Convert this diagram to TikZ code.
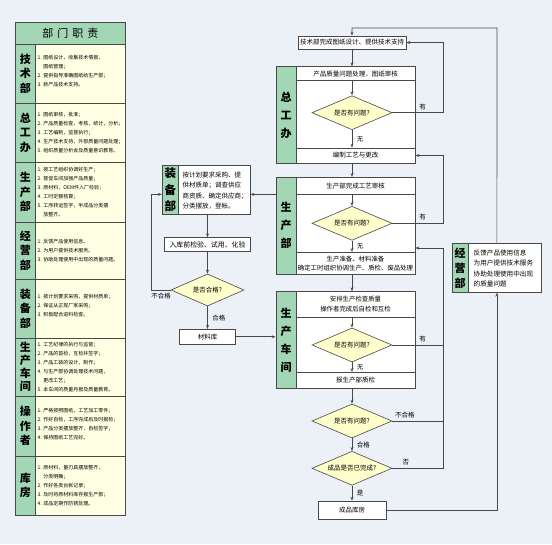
\documentclass[tikz,border=0pt]{standalone}
\usepackage{fontspec}
\setmainfont{Noto Sans CJK SC}
\usetikzlibrary{arrows.meta,shapes.geometric,positioning}
\definecolor{bgblue}{RGB}{236,241,248}
\definecolor{sidegrn}{RGB}{163,214,180}
\definecolor{dutycrm}{RGB}{255,255,228}
\definecolor{diayel}{RGB}{255,255,204}
\definecolor{linegry}{RGB}{72,72,72}

\begin{document}
\begin{tikzpicture}[x=1pt, y=-1pt, >={Stealth[length=4pt,width=3pt]},
  every node/.style={font=\fontsize{6.5}{8}\selectfont, inner sep=0pt},
  box/.style={draw=linegry, fill=white, line width=0.7pt, align=center},
  grpbox/.style={draw=linegry, fill=white, line width=0.7pt},
  bar/.style={draw=linegry, fill=sidegrn, line width=0.7pt, align=center, font=\fontsize{11}{18}\selectfont\bfseries},
  dia/.style={diamond, aspect=2.35, draw=linegry, fill=diayel, line width=0.6pt, minimum width=80pt, minimum height=34pt},
  lbl/.style={font=\fontsize{6.5}{6.5}\selectfont, inner sep=1.5pt},
  flow/.style={draw=linegry, line width=0.7pt},
  duty/.style={anchor=west, align=left, font=\fontsize{5}{9}\selectfont},
  dept/.style={align=center, font=\fontsize{11}{14.5}\selectfont\bfseries}]

  % background
  \fill[bgblue] (0,0) rectangle (552,544);
  \useasboundingbox (0,0) rectangle (552,544);

  % duty table
  \fill[dutycrm] (15.7,44) rectangle (125,515);
  \fill[sidegrn] (15.7,22) rectangle (125,44);
  \fill[sidegrn] (15.7,44) rectangle (35,515);
  \foreach \y in {44,103,162,222,279,338,396,456}
    \draw[linegry, line width=1pt] (15.7,\y) -- (125,\y);
  \draw[linegry, line width=0.8pt] (35,44) -- (35,515);
  \draw[linegry, line width=0.8pt] (15.7,22) rectangle (125,515);
  \node[font=\fontsize{11}{11}\selectfont] (dutyHead) at (70.3,33) {部\hspace{4pt}门\hspace{4pt}职\hspace{4pt}责};

  \node[dept] (jsName) at (25.3,73.5) {技\\术\\部};
  \node[duty] (jsDuty) at (37.5,71) {1. 图纸设计，收集技术情报，\\\phantom{1. }图纸管理；\\2. 提供指导准确图纸给生产部；\\3. 新产品技术支持。};
  \node[dept] (zgName) at (25.3,132.5) {总\\工\\办};
  \node[duty] (zgDuty) at (37.5,132.5) {1. 图纸审核，批准；\\2. 产品质量检查，考核，统计，分析；\\3. 工艺编制，监督执行；\\4. 生产技术支持，外部质量问题处理；\\5. 组织质量分析会及质量意识教育。};
  \node[dept] (scName) at (25.3,192) {生\\产\\部};
  \node[duty] (scDuty) at (37.5,192) {1. 按工艺组织协调好生产；\\2. 督促车间加强产品质量；\\3. 原材料，OEM件入厂检验；\\4. 工时定额核算；\\5. 工序转运签字，半成品分类摆\\\phantom{5. }放整齐。};
  \node[dept] (jyName) at (25.3,250.5) {经\\营\\部};
  \node[duty] (jyDuty) at (37.5,250.5) {1. 反馈产品使用信息。\\2. 为用户提供技术服务。\\3. 协助处理使用中出现的质量问题。};
  \node[dept] (zbName) at (25.3,308.5) {装\\备\\部};
  \node[duty] (zbDuty) at (37.5,306) {1. 按计划要求采购，提供材质单；\\2. 保证从正规厂家采购；\\3. 积极配合进料检查。};
  \node[dept, font=\fontsize{11}{13}\selectfont\bfseries] (cjName) at (25.3,367) {生\\产\\车\\间};
  \node[dept] (czName) at (25.3,426) {操\\作\\者};
  \node[duty] (czDuty) at (37.5,424) {1. 严格按照图纸，工艺加工零件；\\2. 作好自检，工序完成后及时报检；\\3. 产品分类摆放整齐，自检签字；\\4. 保持图纸工艺完好。};
  \node[duty] (cjDuty) at (37.5,367) {1. 工艺纪律的执行与监督；\\2. 产品的首检，互检并签字；\\3. 产品工装的设计，制作；\\4. 与生产部协调处理技术问题，\\\phantom{4. }更改工艺；\\5. 本车间的质量月报及质量教育。};
  \node[dept] (kfName) at (25.3,485.5) {库\\房};
  \node[duty] (kfDuty) at (37.5,485.5) {1. 原材料，量刃具摆放整齐，\\\phantom{1. }分类明确；\\2. 作好各类台帐记录；\\3. 及时将原材料库存报生产部；\\4. 成品定期作防锈处理。};

  % technical department
  \node[box, minimum width=108pt, minimum height=13pt] (techBox) at (352,42.5) {技术部完成图纸设计、提供技术支持};

  % chief engineer office
  \node[grpbox, minimum width=139pt, minimum height=96.3pt] (zgGrp) at (345.5,114.85) {};
  \node[bar, minimum width=20pt, minimum height=96.3pt] (zgBar) at (286,114.85) {总\\工\\办};
  \node[box, minimum width=119pt, minimum height=14pt] (zgHead) at (355.5,73.7) {产品质量问题处理，图纸审核};
  \node[dia] (zgDia) at (352,112.7) {是否有问题?};
  \node[box, minimum width=119pt, minimum height=15pt] (zgBot) at (355.5,155.5) {编制工艺与更改};

  % production department
  \node[grpbox, minimum width=139pt, minimum height=97pt] (scGrp) at (345.5,225.8) {};
  \node[bar, minimum width=20pt, minimum height=97pt] (scBar) at (286,225.8) {生\\产\\部};
  \node[box, minimum width=119pt, minimum height=16.7pt] (scHead) at (355.5,185.65) {生产部完成工艺审核};
  \node[dia] (scDia) at (352,223.3) {是否有问题?};
  \node[box, minimum width=119pt, minimum height=22pt, font=\fontsize{6.4}{9}\selectfont] (scBot) at (355.5,263.3) {生产准备、材料准备\\确定工时组织协调生产、质检、废品处理};

  % workshop
  \node[grpbox, minimum width=139pt, minimum height=96.6pt] (cjGrp) at (345.5,340) {};
  \node[bar, minimum width=20pt, minimum height=96.6pt] (cjBar) at (286,340) {生\\产\\车\\间};
  \node[box, minimum width=119pt, minimum height=25.6pt, font=\fontsize{6.4}{10}\selectfont] (cjHead) at (355.5,304.5) {安排生产检查质量\\操作者完成后自检和互检};
  \node[dia] (cjDia) at (352,345) {是否有问题?};
  \node[box, minimum width=119pt, minimum height=16pt] (cjBot) at (355.5,380.3) {报生产部质检};

  % final checks
  \node[dia] (qcDia) at (352,421) {是否有问题?};
  \node[dia] (wcDia) at (352,468.3) {成品是否已完成?};
  \node[box, minimum width=68pt, minimum height=18pt] (storeBox) at (352,510) {成品库房};

  % equipment department
  \node[box, minimum width=87.7pt, minimum height=48.6pt] (zbBox) at (206.15,190) {};
  \node[bar, minimum width=16pt, minimum height=48.6pt, font=\fontsize{11.5}{16.5}\selectfont\bfseries] (zbBar) at (170.3,190) {装\\备\\部};
  \node[anchor=west, align=left, font=\fontsize{6.5}{10.5}\selectfont] (zbText) at (182.5,190.5) {按计划要求采购、提\\供材质单；调查供应\\商资质、确定供应商；\\分类摆放，登帐。};
  \node[box, minimum width=86pt, minimum height=14pt, font=\fontsize{6.9}{8}\selectfont] (inspBox) at (207.5,244.7) {入库前检验、试用、化验};
  \node[dia, aspect=2.3, minimum width=73pt, minimum height=32pt] (okDia) at (207.5,290) {是否合格?};
  \node[box, minimum width=55.7pt, minimum height=15pt] (matBox) at (207.5,336.8) {材料库};

  % sales department
  \node[box, minimum width=89.7pt, minimum height=49pt] (jyBox) at (496.85,267.8) {};
  \node[bar, minimum width=16pt, minimum height=49pt, font=\fontsize{11}{15}\selectfont\bfseries] (jyBar) at (460,267.8) {经\\营\\部};
  \node[anchor=west, align=left, font=\fontsize{6.6}{10.3}\selectfont] (jyText) at (473.5,268.5) {反馈产品使用信息\\为用户提供技术服务\\协助处理使用中出现\\的质量问题};

  % bus coordinates
  \coordinate (topBus) at (497,28);
  \coordinate (zgBus) at (443,42.5);
  \coordinate (scBus) at (443,155.5);
  \coordinate (busTop) at (443,248);
  \coordinate (busBot) at (443,468.3);
  \coordinate (rejBus) at (151.7,194.3);

  % main flow
  \draw[->, flow] (jyBox.north) -- (topBus) -| (techBox.north);
  \draw[->, flow] (techBox.south) -- (techBox.south |- zgGrp.north);
  \draw[->, flow] (zgHead.south -| zgDia) -- (zgDia.north);
  \draw[->, flow] (zgDia.south) -- node[lbl, right=3pt] {无} (zgDia.south |- zgBot.north);
  \draw[->, flow] (zgDia.east) -| node[lbl, above=1pt, pos=.3] {有} (zgBus) -- (techBox.east);
  \draw[->, flow] (zgBot.south -| zgDia) -- (scHead.north -| zgDia);
  \draw[->, flow] (scHead.south -| scDia) -- (scDia.north);
  \draw[->, flow] (scDia.south) -- node[lbl, right=3pt] {无} (scDia.south |- scBot.north);
  \draw[->, flow] (scDia.east) -| node[lbl, above=1pt, pos=.3] {有} (scBus) -- (zgBot.east);
  \draw[->, flow] (scBot.south -| scDia) -- (cjHead.north -| scDia);
  \draw[->, flow] (cjHead.south -| cjDia) -- (cjDia.north);
  \draw[->, flow] (cjDia.south) -- node[lbl, right=3pt] {无} (cjDia.south |- cjBot.north);
  \draw[->, flow] (cjBot.south -| cjDia) -- (qcDia.north);
  \draw[->, flow] (qcDia.south) -- node[lbl, right=3pt] {合格} (wcDia.north);
  \draw[->, flow] (wcDia.south) -- node[lbl, right=3pt] {是} (storeBox.north);
  \draw[->, flow] (storeBox.east) -| (jyBox.south);

  % return lines
  \draw[flow] (cjDia.east) -- node[lbl, above=1pt, pos=.6] {有} (cjDia.east -| busBot);
  \draw[flow] (qcDia.east) -- node[lbl, above=1pt, pos=.25] {不合格} (qcDia.east -| busBot);
  \draw[->, flow] (wcDia.east) -- node[lbl, above=1pt, pos=.27] {否} (busBot) -- (busTop) -- (scGrp.east |- busTop);

  % equipment flow
  \draw[->, flow] (scHead.south -| scBar.west) -- (scHead.south -| zbBox.east);
  \draw[->, flow] (zbBox.south -| okDia) -- (inspBox.north);
  \draw[->, flow] (inspBox.south) -- (okDia.north);
  \draw[->, flow] (okDia.south) -- node[lbl, right=3pt] {合格} (matBox.north);
  \draw[->, flow] (okDia.west) -| node[lbl, below=1pt, pos=.25] {不合格} (rejBus) -- (rejBus -| zbBox.west);
  \draw[->, flow] (matBox.east) -- (matBox.east -| cjGrp.west);
\end{tikzpicture}
\end{document}
